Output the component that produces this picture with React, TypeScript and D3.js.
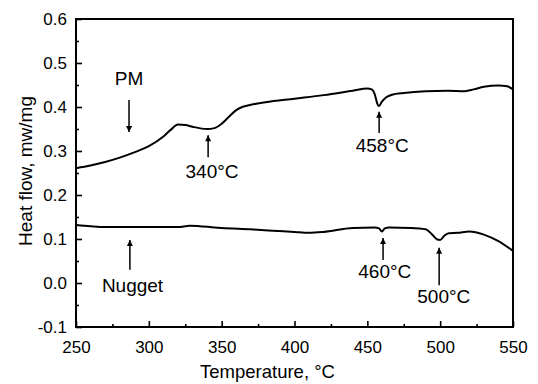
import React, { useEffect, useRef } from 'react';
import * as d3 from 'd3';

// PM curve: [temperature, heat flow]
const pmData: [number, number][] = [
  [250, 0.261], [260, 0.267], [270, 0.275], [280, 0.285], [290, 0.297], [300, 0.311],
  [310, 0.333], [315, 0.348], [320, 0.36], [325, 0.359], [330, 0.355], [340, 0.35],
  [345, 0.352], [350, 0.362], [355, 0.378], [360, 0.393], [365, 0.401], [370, 0.405],
  [380, 0.411], [400, 0.419], [420, 0.427], [440, 0.437], [450, 0.442], [453, 0.44],
  [455, 0.43], [457, 0.406], [458, 0.402], [460, 0.412], [463, 0.422], [467, 0.428],
  [475, 0.432], [490, 0.436], [505, 0.437], [517, 0.436], [523, 0.44], [530, 0.446],
  [540, 0.449], [546, 0.447], [550, 0.44],
];

// Nugget curve
const nuggetData: [number, number][] = [
  [250, 0.132], [260, 0.129], [270, 0.127], [300, 0.127], [320, 0.127], [328, 0.13],
  [335, 0.129], [350, 0.125], [370, 0.122], [385, 0.119], [400, 0.116], [410, 0.114],
  [420, 0.116], [440, 0.125], [455, 0.126], [458, 0.124], [460, 0.117], [462, 0.124],
  [465, 0.126], [480, 0.125], [490, 0.122], [494, 0.112], [498, 0.099], [500, 0.098],
  [503, 0.108], [506, 0.113], [512, 0.114], [520, 0.117], [530, 0.11], [540, 0.095],
  [550, 0.073],
];

// arrows: x, tail y, head y
const arrows = [
  { t: 286.4, from: 0.416, to: 0.343 },
  { t: 340.7, from: 0.286, to: 0.336 },
  { t: 458.1, from: 0.341, to: 0.389 },
  { t: 287, from: 0.03, to: 0.098 },
  { t: 460.8, from: 0.052, to: 0.102 },
  { t: 499.3, from: -0.005, to: 0.08 },
];

// labels: text, degree suffix, x centre, baseline y
const labels = [
  { text: 'PM', deg: false, t: 286.4, y: 0.45 },
  { text: '340', deg: true, t: 343.4, y: 0.239 },
  { text: '458', deg: true, t: 460.2, y: 0.298 },
  { text: 'Nugget', deg: false, t: 288.8, y: -0.02 },
  { text: '460', deg: true, t: 462, y: 0.011 },
  { text: '500', deg: true, t: 502.5, y: -0.045 },
];

const xTicks = [250, 300, 350, 400, 450, 500, 550];
const yTicks = [-0.1, 0.0, 0.1, 0.2, 0.3, 0.4, 0.5, 0.6];

const font = 'Arial, "Liberation Sans", sans-serif';

export default function App() {
  const ref = useRef<SVGSVGElement>(null);

  useEffect(() => {
    const width = 538;
    const height = 384;
    const margin = { top: 19, right: 25, bottom: 57, left: 76 };
    const innerWidth = width - margin.left - margin.right;
    const innerHeight = height - margin.top - margin.bottom;

    const root = d3.select(ref.current);
    root.selectAll('*').remove();

    root.append('defs').append('marker')
      .attr('id', 'head')
      .attr('viewBox', '0 0 10 10')
      .attr('refX', 10)
      .attr('refY', 5)
      .attr('markerUnits', 'userSpaceOnUse')
      .attr('markerWidth', 9)
      .attr('markerHeight', 6)
      .attr('orient', 'auto')
      .append('path')
      .attr('d', 'M0,0 L10,5 L0,10 Z')
      .attr('fill', '#000');

    const svg = root.append('g')
      .attr('transform', `translate(${margin.left}, ${margin.top})`);

    const x = d3.scaleLinear().domain([250, 550]).range([0, innerWidth]);
    const y = d3.scaleLinear().domain([-0.1, 0.6]).range([innerHeight, 0]);

    // Axes: inward ticks, minor ticks between
    const xMinor = d3.range(275, 550, 50);
    const yMinor = d3.range(-0.05, 0.6, 0.1);

    const xAxis = svg.append('g').attr('transform', `translate(0, ${innerHeight})`);
    xAxis.call(d3.axisBottom(x).tickValues(xTicks).tickSize(-6).tickPadding(14).tickFormat(d3.format('d')));
    xAxis.append('g').call(d3.axisBottom(x).tickValues(xMinor).tickSize(-3).tickFormat(() => ''));

    const yAxis = svg.append('g');
    yAxis.call(d3.axisLeft(y).tickValues(yTicks).tickSize(-6).tickPadding(9)
      .tickFormat(d => (+d).toFixed(1)));
    yAxis.append('g').call(d3.axisLeft(y).tickValues(yMinor).tickSize(-3).tickFormat(() => ''));

    svg.selectAll('.domain').remove();
    svg.selectAll('.tick line').attr('stroke', '#000').attr('stroke-width', 1.6);
    svg.selectAll('.tick text')
      .attr('font-family', font)
      .attr('font-size', 17)
      .attr('fill', '#000');

    svg.append('rect')
      .attr('width', innerWidth)
      .attr('height', innerHeight)
      .attr('fill', 'none')
      .attr('stroke', '#000')
      .attr('stroke-width', 2);

    // Curves
    const line = d3.line<[number, number]>()
      .x(d => x(d[0]))
      .y(d => y(d[1]))
      .curve(d3.curveMonotoneX);

    [pmData, nuggetData].forEach(data => {
      svg.append('path')
        .attr('d', line(data))
        .attr('fill', 'none')
        .attr('stroke', '#000')
        .attr('stroke-width', 2);
    });

    // Arrows
    svg.selectAll('.arrow')
      .data(arrows)
      .join('line')
      .attr('class', 'arrow')
      .attr('x1', d => x(d.t))
      .attr('x2', d => x(d.t))
      .attr('y1', d => y(d.from))
      .attr('y2', d => y(d.to))
      .attr('stroke', '#000')
      .attr('stroke-width', 1.5)
      .attr('marker-end', 'url(#head)');

    // Labels
    const lab = svg.selectAll('.label')
      .data(labels)
      .join('text')
      .attr('class', 'label')
      .attr('x', d => x(d.t))
      .attr('y', d => y(d.y))
      .attr('text-anchor', 'middle')
      .attr('font-family', font)
      .attr('font-size', 19)
      .attr('fill', '#000');
    lab.append('tspan').text(d => d.text);
    lab.filter(d => d.deg).append('tspan').text('°C');

    // Axis titles
    svg.append('text')
      .attr('x', innerWidth / 2 - 27)
      .attr('y', innerHeight + 51)
      .attr('text-anchor', 'middle')
      .attr('font-family', font)
      .attr('font-size', 18.5)
      .text('Temperature, °C');

    svg.append('text')
      .attr('transform', `translate(${-44}, ${innerHeight / 2 - 2}) rotate(-90)`)
      .attr('text-anchor', 'middle')
      .attr('font-family', font)
      .attr('font-size', 19)
      .text('Heat flow, mw/mg');
  }, []);

  return (
    <svg
      ref={ref}
      width={538}
      height={384}
      style={{ position: 'absolute', left: 0, top: 0, background: '#fff' }}
    />
  );
}
